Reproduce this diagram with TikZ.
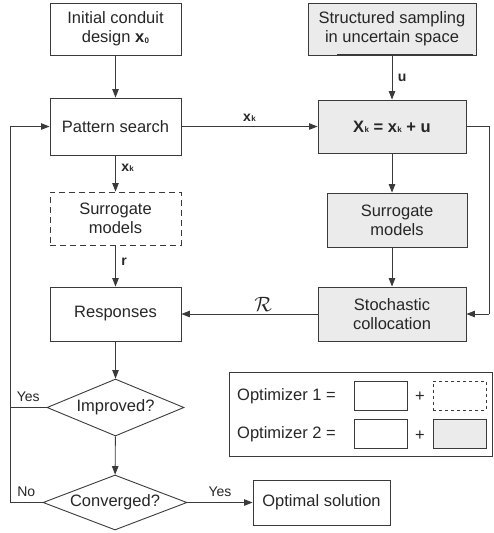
\documentclass[tikz,border=0pt]{standalone}
\usepackage{fontspec}
\setmainfont{Liberation Sans}
\usetikzlibrary{arrows.meta,shapes.geometric}
\newcommand{\subk}[1]{\kern0.4pt\raisebox{-0.3pt}{\fontsize{8}{8}\selectfont #1}}
\definecolor{ln}{HTML}{3A3A3A}
\definecolor{gfill}{HTML}{EBEBEB}
\begin{document}
\begin{tikzpicture}[x=1pt,y=-1pt,
  every node/.style={font=\fontsize{16.5}{19}\selectfont, text=black!85},
  box/.style={draw=ln, line width=0.9pt, align=center, inner sep=0pt},
  gbox/.style={box, fill=gfill},
  dbox/.style={box, dash pattern=on 6pt off 4pt},
  dia/.style={draw=ln, line width=0.9pt, shape=diamond, aspect=2.4, inner sep=0pt},
  conn/.style={draw=ln, line width=0.9pt},
  arr/.style={conn, -{Triangle[length=8.5pt,width=6.5pt]}},
  lab/.style={font=\fontsize{14}{16}\selectfont},
  blab/.style={font=\fontsize{14}{16}\selectfont\bfseries}
]
\useasboundingbox (0,0) rectangle (493,533);
% main column
\node[box, minimum width=131pt, minimum height=52pt] (init) at (115.5,29) {Initial conduit\\design \textbf{x}\subk{\textbf{0}}};
\node[box, minimum width=131pt, minimum height=57pt] (ps) at (115.5,126.5) {Pattern search};
\node[dbox, minimum width=131pt, minimum height=53pt] (sm1) at (115.5,218.5) {Surrogate\\models};
\node[box, minimum width=131pt, minimum height=54pt] (resp) at (115.5,314) {Responses};
\node[dia, minimum width=137pt, minimum height=57pt] (imp) at (115.5,407.5) {Improved?};
\node[dia, minimum width=144pt, minimum height=55pt] (conv) at (115,502.5) {Converged?};
\node[box, minimum width=137pt, minimum height=45pt] (opt) at (321.5,502.5) {Optimal solution};
% right column
\node[gbox, minimum width=168pt, minimum height=52pt] (ss) at (392,29) {Structured sampling\\in uncertain space};
\draw[ln, line width=1.8pt] (337,55) -- (473,55);
\node[gbox, minimum width=148pt, minimum height=53pt] (xk) at (392,126.5) {\textbf{X\subk{k} = x\subk{k} + u}};
\node[gbox, minimum width=140pt, minimum height=54pt] (sm2) at (397,220) {Surrogate\\models};
\node[gbox, minimum width=148pt, minimum height=54pt] (sc) at (392,314) {Stochastic\\collocation};
% legend
\node[box, minimum width=263pt, minimum height=84pt] (leg) at (360.5,414) {};
\node[anchor=west, inner sep=0pt] (o1) at (237,396) {Optimizer 1 =};
\node[anchor=west, inner sep=0pt] (o2) at (237,434.5) {Optimizer 2 =};
\node[box, minimum width=53pt, minimum height=29pt] (b1) at (380.5,395.5) {};
\node[inner sep=0pt] (p1) at (420,397) {+};
\node[dbox, line width=0.8pt, dash pattern=on 3pt off 3pt, minimum width=53pt, minimum height=29pt] (b2) at (459.5,395.5) {};
\node[box, minimum width=53pt, minimum height=29pt] (b3) at (380.5,434) {};
\node[inner sep=0pt] (p2) at (420,435.5) {+};
\node[gbox, minimum width=53pt, minimum height=29pt] (b4) at (459.5,434) {};
% coordinates
\coordinate (rr) at (489,126.5);
\coordinate (rb) at (489,314);
\coordinate (ly) at (10,407.5);
\coordinate (lb) at (10,502.5);
\coordinate (lt) at (10,126.5);
% connectors
\draw[arr] (init) -- (ps);
\draw[arr] (ps) -- node[blab, above, pos=0.5, yshift=1pt] (lxk1) {x\subk{k}} (xk);
\draw[arr] (ss) -- node[blab, right, xshift=2pt] (lu) {u} (xk);
\draw[arr] (ps) -- node[blab, right, xshift=2pt, pos=0.35] (lxk2) {x\subk{k}} (sm1);
\draw[arr] (sm1) -- node[blab, right, xshift=2pt, pos=0.4] (lr) {r} (resp);
\draw[arr] (xk.south) -- (xk.south |- sm2.north);
\draw[arr] (xk.south |- sm2.south) -- (sc.north);
\draw[conn] (xk.east) -- (rr) -- (rb);
\draw[arr] (rb) -- (sc.east);
\draw[arr] (sc.west) -- node[above, pos=0.4, yshift=-1pt, font=\fontsize{20}{20}\selectfont] (lR) {$\mathcal{R}$} (resp.east);
\draw[arr] (resp) -- (imp);
\draw[arr] (imp) -- (conv);
\draw[conn] (imp.west) -- node[lab, above, yshift=2pt] (ly1) {Yes} (ly);
\draw[conn] (conv.west) -- node[lab, above, yshift=2pt] (ln1) {No} (lb) -- (lt);
\draw[arr] (lt) -- (ps.west);
\draw[arr] (conv.east) -- node[lab, above, yshift=2pt] (ly2) {Yes} (opt.west);
\end{tikzpicture}
\end{document}
